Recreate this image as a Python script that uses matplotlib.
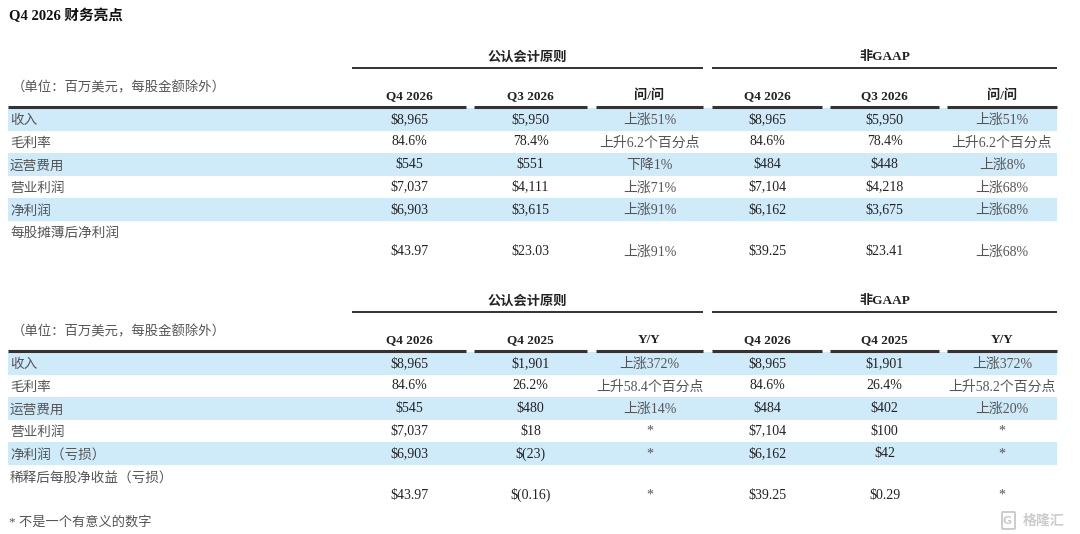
import matplotlib
matplotlib.use('Agg')
import matplotlib.pyplot as plt
from matplotlib.patches import Rectangle, FancyBboxPatch

plt.rcParams['font.family'] = ['Liberation Serif', 'Noto Sans CJK SC', 'DejaVu Sans']

title = 'Q4 2026 财务亮点'
unit_note = '（单位：百万美元，每股金额除外）'
group_names = ['公认会计原则', '非GAAP']
footnote = '* 不是一个有意义的数字'

# top table: quarter over quarter
top_cols = ['Q4 2026', 'Q3 2026', '问/问', 'Q4 2026', 'Q3 2026', '问/问']
top_labels = ['收入', '毛利率', '运营费用', '营业利润', '净利润', '每股摊薄后净利润']
top_gaap_q4 = ['$8,965', '84.6%', '$545', '$7,037', '$6,903', '$43.97']
top_gaap_q3 = ['$5,950', '78.4%', '$551', '$4,111', '$3,615', '$23.03']
top_gaap_chg = ['上涨51%', '上升6.2个百分点', '下降1%', '上涨71%', '上涨91%', '上涨91%']
top_ng_q4 = ['$8,965', '84.6%', '$484', '$7,104', '$6,162', '$39.25']
top_ng_q3 = ['$5,950', '78.4%', '$448', '$4,218', '$3,675', '$23.41']
top_ng_chg = ['上涨51%', '上升6.2个百分点', '上涨8%', '上涨68%', '上涨68%', '上涨68%']

# bottom table: year over year
bot_cols = ['Q4 2026', 'Q4 2025', 'Y/Y', 'Q4 2026', 'Q4 2025', 'Y/Y']
bot_labels = ['收入', '毛利率', '运营费用', '营业利润', '净利润（亏损）', '稀释后每股净收益（亏损）']
bot_gaap_q4 = ['$8,965', '84.6%', '$545', '$7,037', '$6,903', '$43.97']
bot_gaap_prev = ['$1,901', '26.2%', '$480', '$18', '$(23)', '$(0.16)']
bot_gaap_chg = ['上涨372%', '上升58.4个百分点', '上涨14%', '*', '*', '*']
bot_ng_q4 = ['$8,965', '84.6%', '$484', '$7,104', '$6,162', '$39.25']
bot_ng_prev = ['$1,901', '26.4%', '$402', '$100', '$42', '$0.29']
bot_ng_chg = ['上涨372%', '上升58.2个百分点', '上涨20%', '*', '*', '*']

band = '#cfeaf8'
dark = '#222222'
grey = '#555555'

col_spans = [(352, 466), (474, 587), (596, 703), (712, 822), (830, 939), (947, 1057)]

fig = plt.figure(figsize=(10.8, 5.34), dpi=100)
ax = fig.add_axes([0, 0, 1, 1])
ax.set_xlim(0, 1080)
ax.set_ylim(534, 0)
ax.axis('off')

ax.text(9, 16, title, fontsize=10.5, fontweight='bold', color='#111111', va='center', ha='left')


def draw_table(y0, cols, labels, columns):
    # y0 = y of the header underline
    ax.text(527, y0 - 50, group_names[0], fontsize=9.5, fontweight='bold', color=dark, ha='center', va='center')
    ax.text(885, y0 - 50, group_names[1], fontsize=9.5, fontweight='bold', color=dark, ha='center', va='center')
    ax.plot([352, 703], [y0 - 39, y0 - 39], color=dark, lw=1.3, solid_capstyle='butt')
    ax.plot([712, 1057], [y0 - 39, y0 - 39], color=dark, lw=1.3, solid_capstyle='butt')
    ax.text(12, y0 - 19, unit_note, fontsize=9.6, color=grey, ha='left', va='center')
    for (x0, x1), name in zip(col_spans, cols):
        ax.text((x0 + x1) / 2, y0 - 11, name, fontsize=9.5, fontweight='bold', color=dark, ha='center', va='center')
    ax.plot([8, col_spans[0][1]], [y0, y0], color='#333333', lw=2.2, solid_capstyle='butt')
    for x0, x1 in col_spans[1:]:
        ax.plot([x0, x1], [y0, y0], color='#333333', lw=2.2, solid_capstyle='butt')
    rh = 22.6
    for i, lab in enumerate(labels):
        top = y0 + 1 + i * rh
        if i % 2 == 0 and i < 5:
            ax.add_patch(Rectangle((8, top), 1049, rh, facecolor=band, edgecolor='none', zorder=0))
        yc = top + rh / 2
        ax.text(10, yc + 1.5, lab, fontsize=9.8, color=grey, ha='left', va='center')
        vy = yc if i < 5 else yc + 19
        for (x0, x1), vals in zip(col_spans, columns):
            v = vals[i]
            cjk = v.startswith('上') or v.startswith('下')
            c = grey if (cjk or v == '*') else dark
            ax.text((x0 + x1) / 2, vy + (1 if cjk else 0), v, fontsize=10, color=c, ha='center', va='center')


draw_table(107, top_cols, top_labels,
           [top_gaap_q4, top_gaap_q3, top_gaap_chg, top_ng_q4, top_ng_q3, top_ng_chg])
draw_table(351, bot_cols, bot_labels,
           [bot_gaap_q4, bot_gaap_prev, bot_gaap_chg, bot_ng_q4, bot_ng_prev, bot_ng_chg])

ax.text(9, 522, footnote, fontsize=9.5, color=grey, ha='left', va='center')

# watermark
ax.add_patch(FancyBboxPatch((1003, 513), 11, 15, boxstyle='round,pad=1', facecolor='none',
                            edgecolor='#cccccc', lw=1.4))
ax.text(1007.5, 521, 'G', fontsize=8, color='#cccccc', ha='center', va='center', fontweight='bold',
        family='DejaVu Sans')
ax.text(1044, 521, '格隆汇', fontsize=10, color='#cccccc', ha='center', va='center', fontweight='bold')

fig.savefig('out.png', dpi=100)
